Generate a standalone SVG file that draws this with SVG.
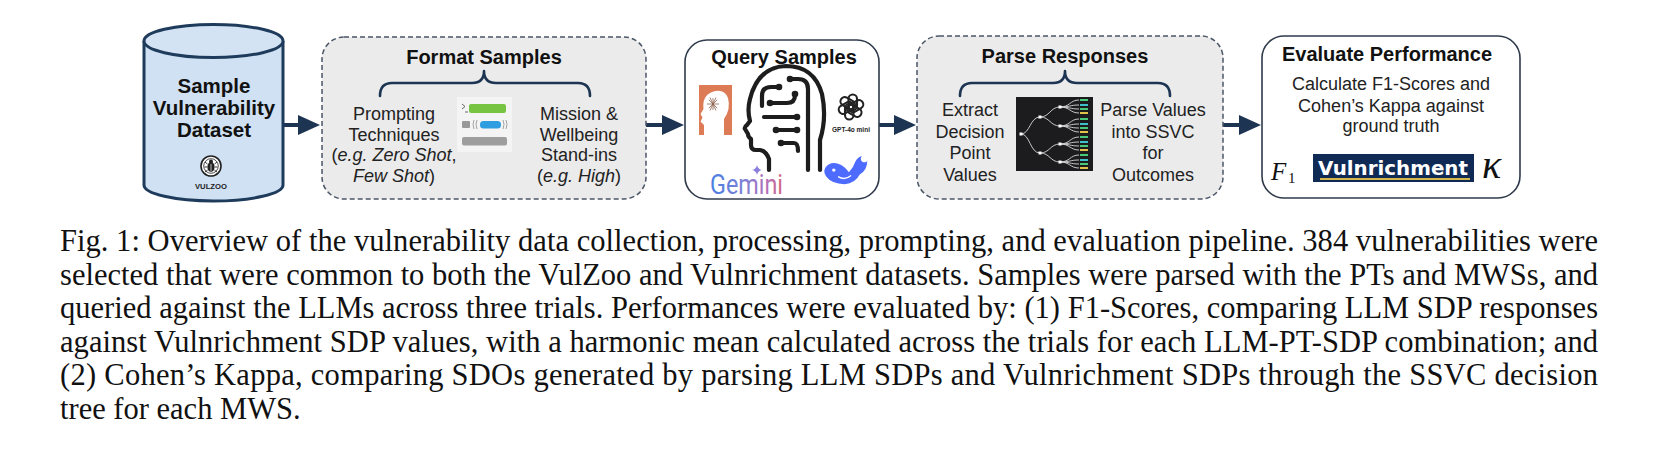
<svg xmlns="http://www.w3.org/2000/svg" width="1654" height="464" viewBox="0 0 1654 464">
<style>
.title{font-family:"Liberation Sans",Arial,sans-serif;font-weight:bold;font-size:20px;fill:#111;text-anchor:middle}
.body{font-family:"Liberation Sans",Arial,sans-serif;font-size:18px;fill:#222;text-anchor:middle}
.it{font-style:italic}
.cap{font-family:"Liberation Serif","Times New Roman",serif;font-size:30.5px;fill:#111}
.dash{fill:#ebebeb;stroke:#4a5566;stroke-width:1.5;stroke-dasharray:5 3}
.solid{fill:#fff;stroke:#2f3b4b;stroke-width:1.6}
.brace{fill:none;stroke:#1d3553;stroke-width:2.6;stroke-linecap:round;stroke-linejoin:round}
.conn{stroke:#1d3553;stroke-width:4;fill:none}
.tree{fill:none;stroke:#d8d8d8;stroke-width:0.9}
.node{fill:#fff}
.circ{fill:none;stroke:#1d1d1d;stroke-width:4.2;stroke-linecap:round;stroke-linejoin:round}
</style>
<defs>
<marker id="ah" markerUnits="userSpaceOnUse" markerWidth="22" markerHeight="20" refX="2" refY="10" orient="auto">
<path d="M0,0 L22,10 L0,20 Z" fill="#1d3553"/>
</marker>
<linearGradient id="gem" gradientUnits="userSpaceOnUse" x1="711" y1="0" x2="782" y2="0">
<stop offset="0" stop-color="#4a7fe0"/>
<stop offset="0.45" stop-color="#7b80d6"/>
<stop offset="0.8" stop-color="#b46fb8"/>
<stop offset="1" stop-color="#d0697f"/>
</linearGradient>
</defs>

<g id="connectors">
<line class="conn" x1="283" y1="125" x2="300" y2="125" marker-end="url(#ah)"/>
<line class="conn" x1="646" y1="125" x2="664" y2="125" marker-end="url(#ah)"/>
<line class="conn" x1="879" y1="125" x2="896" y2="125" marker-end="url(#ah)"/>
<line class="conn" x1="1223" y1="125" x2="1241" y2="125" marker-end="url(#ah)"/>
</g>

<g id="dataset">
<path d="M144,41 L144,185 A69.5,16 0 0 0 283,185 L283,41" fill="#cfe1f2" stroke="#1f3b5b" stroke-width="3"/>
<ellipse cx="213.5" cy="41" rx="69.5" ry="16.5" fill="#d3e3f3" stroke="#1f3b5b" stroke-width="3"/>
<text class="title" x="214" y="93" style="font-size:20.5px">Sample</text>
<text class="title" x="214" y="115" style="font-size:20.5px">Vulnerability</text>
<text class="title" x="214" y="137" style="font-size:20.5px">Dataset</text>
<g transform="translate(211,166)">
<circle r="10" fill="#fff" stroke="#222" stroke-width="1.6"/>
<circle r="7.3" fill="none" stroke="#222" stroke-width="0.8"/>
<ellipse cx="0" cy="1" rx="3.6" ry="5" fill="#222"/>
<circle cx="0" cy="-4.6" r="2" fill="#222"/>
<path d="M-3.5,-2 L-6,-4 M3.5,-2 L6,-4 M-3.8,1 L-6.5,1 M3.8,1 L6.5,1 M-3.4,4 L-6,6 M3.4,4 L6,6" stroke="#222" stroke-width="0.9"/>
<line x1="0" y1="-2" x2="0" y2="5.5" stroke="#fff" stroke-width="0.7"/>
</g>
<text x="211" y="189" style="font-family:'Liberation Sans',Arial,sans-serif;font-weight:bold;font-size:7.7px;fill:#222;text-anchor:middle">VULZOO</text>
</g>

<g id="format">
<rect class="dash" x="322" y="37" width="324" height="162" rx="22"/>
<text class="title" x="484" y="64">Format Samples</text>
<path class="brace" d="M380,96 Q380,83 392,83 L472,83 Q484,83 484,71 Q484,83 496,83 L578,83 Q590,83 590,96"/>
<text class="body" x="394" y="120">Prompting</text>
<text class="body" x="394" y="140.5">Techniques</text>
<text class="body" x="394" y="161">(<tspan class="it">e.g. Zero Shot</tspan>,</text>
<text class="body" x="394" y="181.5"><tspan class="it">Few Shot</tspan>)</text>
<text class="body" x="579" y="120">Mission &amp;</text>
<text class="body" x="579" y="140.5">Wellbeing</text>
<text class="body" x="579" y="161">Stand-ins</text>
<text class="body" x="579" y="181.5">(<tspan class="it">e.g. High</tspan>)</text>
<g id="prompt-icon">
<rect x="457" y="97" width="55" height="55" fill="#f4f4f4"/>
<path d="M462,104 L465,106.5 L462,109 M465,112 L468,112" fill="none" stroke="#555" stroke-width="0.9"/>
<rect x="469" y="104" width="37" height="9" rx="2" fill="#76c442"/>
<rect x="462" y="121" width="8" height="7" rx="1" fill="#999"/>
<path d="M474,120 Q472,124.5 474,129 M477,120 Q475,124.5 477,129 M503,120 Q505,124.5 503,129 M506,120 Q508,124.5 506,129" fill="none" stroke="#999" stroke-width="0.9"/>
<rect x="480" y="121" width="21" height="7.5" rx="3.5" fill="#2f9ee0"/>
<rect x="462" y="137" width="45" height="8.5" rx="2" fill="#9e9e9e"/>
</g>
</g>

<g id="query">
<rect class="solid" x="685" y="40" width="194" height="159" rx="22"/>
<text class="title" x="784" y="64">Query Samples</text>
<g id="claude-icon">
<rect x="699" y="85" width="33" height="50" fill="#dc7b55"/>
<path d="M704,135 L704,125 L700.5,121.5 L702.5,117.5 L700.5,114 L703.5,109 Q702,96 712,92 Q724,88 728,98 Q731,109 724,119 L724,135 Z" fill="#fff"/>
<path d="M713,98 L713,110 M707,104 L719,104 M708.8,99.8 L717.2,108.2 M717.2,99.8 L708.8,108.2 M710,97.5 L716,110.5 M716,97.5 L710,110.5" stroke="#8f6552" stroke-width="0.8"/>
</g>
<g id="brain-head">
<path class="circ" d="M769,170 L769,159 Q766,151 760,150 L756,150 Q751,150 751,145 L751,139 Q748,137 748,134 L745,129 Q744,127 747,125 L750,121 Q747,110 750,99 Q758,67 786,66 Q814,66 822,94 Q827,118 820,140 L820,170"/>
<path class="circ" d="M790,79 L798,79 Q808,79 808,89 L808,170"/>
<path class="circ" d="M762,106 L762,96 Q762,87 771,87 L779,87"/>
<path class="circ" d="M770,103 L787,103 Q795,103 795,95"/>
<path class="circ" d="M764,117 L797,117"/>
<path class="circ" d="M776,130 L797,130"/>
<path class="circ" d="M781,143 L794,143 Q798,143 798,151"/>
<g fill="#1d1d1d">
<circle cx="790" cy="79" r="3.3"/><circle cx="779" cy="87" r="3.3"/><circle cx="770" cy="103" r="3.3"/><circle cx="795" cy="94" r="3.3"/>
<circle cx="797" cy="117" r="3.3"/><circle cx="776" cy="130" r="3.3"/><circle cx="797" cy="130" r="3.3"/><circle cx="781" cy="143" r="3.3"/>
</g>
</g>
<g id="openai-logo" transform="translate(851,107)" fill="none" stroke="#222" stroke-width="2.1">
<rect x="-2.5" y="-12.5" width="8.5" height="15.5" rx="4.25"/>
<rect x="-2.5" y="-12.5" width="8.5" height="15.5" rx="4.25" transform="rotate(60)"/>
<rect x="-2.5" y="-12.5" width="8.5" height="15.5" rx="4.25" transform="rotate(120)"/>
<rect x="-2.5" y="-12.5" width="8.5" height="15.5" rx="4.25" transform="rotate(180)"/>
<rect x="-2.5" y="-12.5" width="8.5" height="15.5" rx="4.25" transform="rotate(240)"/>
<rect x="-2.5" y="-12.5" width="8.5" height="15.5" rx="4.25" transform="rotate(300)"/>
</g>
<text x="851" y="132" style="font-family:'Liberation Sans',Arial,sans-serif;font-weight:bold;font-size:6.5px;fill:#222;text-anchor:middle">GPT-4o mini</text>
<text x="710" y="194" textLength="73" lengthAdjust="spacingAndGlyphs" style="font-family:Roboto,'Liberation Sans',sans-serif;font-size:28px;fill:url(#gem)">Gemini</text>
<path d="M757,165 Q757.8,169.2 762,170 Q757.8,170.8 757,175 Q756.2,170.8 752,170 Q756.2,169.2 757,165 Z" fill="#8a7fdc"/>
<g id="deepseek-logo" transform="translate(823,155) scale(1.08)">
<path d="M2,12 Q6,6 14,8 Q20,10 24,16 Q28,12 30,6 Q32,2 36,1 Q34,4 36,6 Q40,8 41,5 Q41,14 34,18 Q30,26 20,27 Q8,27 3,20 Q0,16 2,12 Z" fill="#4d6bfe"/>
<circle cx="10" cy="14" r="1.6" fill="#fff"/>
<path d="M14,20 Q20,24 26,19" fill="none" stroke="#fff" stroke-width="1.2"/>
</g>
</g>

<g id="parse">
<rect class="dash" x="917" y="36" width="306" height="163" rx="22"/>
<text class="title" x="1065" y="63">Parse Responses</text>
<path class="brace" d="M960,96 Q960,83 972,83 L1053,83 Q1065,83 1065,71 Q1065,83 1077,83 L1158,83 Q1170,83 1170,96"/>
<text class="body" x="970" y="116">Extract</text>
<text class="body" x="970" y="137.5">Decision</text>
<text class="body" x="970" y="159">Point</text>
<text class="body" x="970" y="180.5">Values</text>
<text class="body" x="1153" y="116">Parse Values</text>
<text class="body" x="1153" y="137.5">into SSVC</text>
<text class="body" x="1153" y="159">for</text>
<text class="body" x="1153" y="180.5">Outcomes</text>
<g id="tree-image" transform="translate(1016,97)">
<rect width="77" height="74" fill="#1c1c1e"/>
<path class="tree" d="M5,37 C14,37 14,20 24,20 M5,37 C14,37 14,56 24,56 M24,20 C34,20 34,10 44,10 M24,20 C34,20 34,29 44,29 M24,56 C34,56 34,47 44,47 M24,56 C34,56 34,65 44,65"/>
<path class="tree" d="M44,10 C54,10 54,3 63,3 M44,10 C54,10 54,8 63,8 M44,10 C54,10 54,12 63,12 M44,10 C54,10 54,16 63,16
M44,29 C54,29 54,22 63,22 M44,29 C54,29 54,27 63,27 M44,29 C54,29 54,31 63,31 M44,29 C54,29 54,35 63,35
M44,47 C54,47 54,40 63,40 M44,47 C54,47 54,45 63,45 M44,47 C54,47 54,49 63,49 M44,47 C54,47 54,53 63,53
M44,65 C54,65 54,58 63,58 M44,65 C54,65 54,63 63,63 M44,65 C54,65 54,67 63,67 M44,65 C54,65 54,71 63,71"/>
<g class="node"><rect x="3.5" y="35.5" width="3" height="3"/><rect x="22.5" y="18.5" width="3" height="3"/><rect x="22.5" y="54.5" width="3" height="3"/>
<rect x="42.5" y="8.5" width="3" height="3"/><rect x="42.5" y="27.5" width="3" height="3"/><rect x="42.5" y="45.5" width="3" height="3"/><rect x="42.5" y="63.5" width="3" height="3"/></g>
<g>
<rect x="64" y="2" width="8" height="2" fill="#49c97a"/><rect x="64" y="7" width="8" height="2" fill="#3fc1c9"/><rect x="64" y="11" width="8" height="2" fill="#49c97a"/><rect x="64" y="15" width="8" height="2" fill="#e0c14a"/>
<rect x="64" y="21" width="8" height="2" fill="#49c97a"/><rect x="64" y="26" width="8" height="2" fill="#3fc1c9"/><rect x="64" y="30" width="8" height="2" fill="#49c97a"/><rect x="64" y="34" width="8" height="2" fill="#e0c14a"/>
<rect x="64" y="39" width="8" height="2" fill="#49c97a"/><rect x="64" y="44" width="8" height="2" fill="#3fc1c9"/><rect x="64" y="48" width="8" height="2" fill="#49c97a"/><rect x="64" y="52" width="8" height="2" fill="#e0c14a"/>
<rect x="64" y="57" width="8" height="2" fill="#49c97a"/><rect x="64" y="62" width="8" height="2" fill="#3fc1c9"/><rect x="64" y="66" width="8" height="2" fill="#49c97a"/><rect x="64" y="70" width="8" height="2" fill="#e0c14a"/>
</g>
</g>
</g>

<g id="evaluate">
<rect class="solid" x="1262" y="36" width="258" height="162" rx="22"/>
<text class="title" x="1387" y="61">Evaluate Performance</text>
<text class="body" x="1391" y="90">Calculate F1-Scores and</text>
<text class="body" x="1391" y="111.5">Cohen’s Kappa against</text>
<text class="body" x="1391" y="132">ground truth</text>
<text x="1271" y="180" style="font-family:'Liberation Serif','Times New Roman',serif;font-style:italic;font-size:25px;fill:#111">F</text>
<text x="1288" y="183" style="font-family:'Liberation Serif','Times New Roman',serif;font-size:15px;fill:#111">1</text>
<rect x="1313" y="154" width="161" height="28" fill="#0f2b55"/>
<text x="1318" y="175" textLength="150" lengthAdjust="spacingAndGlyphs" style="font-family:'DejaVu Sans',sans-serif;font-weight:bold;font-size:20px;fill:#fff">Vulnrichment</text>
<line x1="1320" y1="179" x2="1470" y2="179" stroke="#d6b84a" stroke-width="2"/>
<text x="1482" y="178" style="font-family:'Liberation Serif','Times New Roman',serif;font-style:italic;font-size:40px;fill:#111">κ</text>
</g>

<g id="caption">
<text class="cap" x="60" y="251" textLength="1538" lengthAdjust="spacing">Fig. 1: Overview of the vulnerability data collection, processing, prompting, and evaluation pipeline. 384 vulnerabilities were</text>
<text class="cap" x="60" y="284.5" textLength="1538" lengthAdjust="spacing">selected that were common to both the VulZoo and Vulnrichment datasets. Samples were parsed with the PTs and MWSs, and</text>
<text class="cap" x="60" y="318" textLength="1538" lengthAdjust="spacing">queried against the LLMs across three trials. Performances were evaluated by: (1) F1-Scores, comparing LLM SDP responses</text>
<text class="cap" x="60" y="351.5" textLength="1538" lengthAdjust="spacing">against Vulnrichment SDP values, with a harmonic mean calculated across the trials for each LLM-PT-SDP combination; and</text>
<text class="cap" x="60" y="385" textLength="1538" lengthAdjust="spacing">(2) Cohen’s Kappa, comparing SDOs generated by parsing LLM SDPs and Vulnrichment SDPs through the SSVC decision</text>
<text class="cap" x="60" y="418.5">tree for each MWS.</text>
</g>
</svg>
